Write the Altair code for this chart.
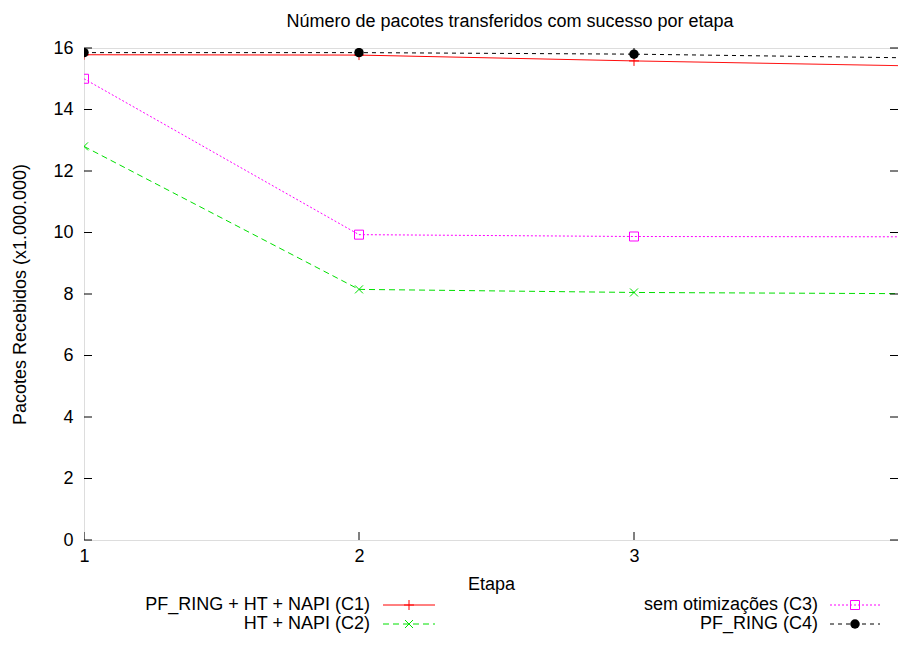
import altair as alt
import pandas as pd

etapas = [1, 2, 3, 4]
series_names = ["PF_RING + HT + NAPI (C1)", "HT + NAPI (C2)", "sem otimizações (C3)", "PF_RING (C4)"]
c1 = [15.78, 15.77, 15.58, 15.42]
c2 = [12.80, 8.15, 8.05, 8.01]
c3 = [15.00, 9.93, 9.87, 9.86]
c4 = [15.85, 15.85, 15.80, 15.68]
series_values = [c1, c2, c3, c4]
y_ticks = [0, 2, 4, 6, 8, 10, 12, 14, 16]
x_labels = [1, 2, 3]
x_ticks = [1, 2, 3, 4]

PLUS = "M-1,0L1,0M0,-1L0,1"
XSHAPE = "M-1,-1L1,1M-1,1L1,-1"
styles = [
    dict(color="#ff0000", dash=[1, 0], shape=PLUS, filled=False, size=100),
    dict(color="#00e000", dash=[6, 4], shape=XSHAPE, filled=False, size=64),
    dict(color="#ff00ff", dash=[2, 2], shape="square", filled=False, size=81),
    dict(color="#000000", dash=[4, 4], shape="circle", filled=True, size=90),
]
W, H = 814, 492
X_MAX = 1 + W / 275
FS = 18
# legend layout (pixels relative to plot area)
leg_text_x = [286, 286, 734, 734]
leg_line_x = [(299, 351), (299, 351), (746, 796), (746, 796)]
leg_y = [557, 576, 557, 576]

X = alt.X("etapa:Q", scale=alt.Scale(domain=[1, X_MAX], nice=False, zero=False),
          axis=alt.Axis(values=x_labels, title="Etapa", ticks=False, domain=False, grid=False,
                        labelFontSize=FS, labelPadding=7, labelFlush=False,
                        titleFontSize=FS, titleFontWeight="normal", titlePadding=10,
                        labelColor="black", titleColor="black"))
Y = alt.Y("valor:Q", scale=alt.Scale(domain=[0, 16], nice=False, zero=False),
          axis=alt.Axis(values=y_ticks, title="Pacotes Recebidos (x1.000.000)", ticks=False,
                        domain=False, grid=False, labelFontSize=FS, labelPadding=11,
                        titleFontSize=FS, titleFontWeight="normal", titlePadding=23,
                        labelColor="black", titleColor="black"))

layers = []
for name, vals, st in zip(series_names, series_values, styles):
    df = pd.DataFrame({"etapa": etapas, "valor": vals})
    layers.append(alt.Chart(df).mark_line(color=st["color"], strokeDash=st["dash"], strokeWidth=1,
                                          clip=True).encode(x=X, y=Y))
    layers.append(alt.Chart(df).mark_point(shape=st["shape"], filled=st["filled"], size=st["size"],
                                           color=st["color"], strokeWidth=1, opacity=1,
                                           clip=True).encode(x=X, y=Y))

# inward ticks
ydf = pd.DataFrame({"valor": y_ticks})
xdf = pd.DataFrame({"etapa": x_ticks})
layers.append(alt.Chart(ydf).mark_rule(color="black", strokeWidth=1).encode(
    y=Y, x=alt.value(0), x2=alt.value(8)))
layers.append(alt.Chart(ydf).mark_rule(color="black", strokeWidth=1).encode(
    y=Y, x=alt.value(W - 8), x2=alt.value(W)))
layers.append(alt.Chart(xdf).mark_rule(color="black", strokeWidth=1, clip=True).encode(
    x=X, y=alt.value(H), y2=alt.value(H - 8)))
layers.append(alt.Chart(xdf).mark_rule(color="black", strokeWidth=1, clip=True).encode(
    x=X, y=alt.value(0), y2=alt.value(8)))

# legend
for i, (name, st) in enumerate(zip(series_names, styles)):
    ldf = pd.DataFrame({"label": [name]})
    layers.append(alt.Chart(ldf).mark_text(align="right", baseline="middle", fontSize=FS,
                                           color="black").encode(
        text="label:N", x=alt.value(leg_text_x[i]), y=alt.value(leg_y[i])))
    x0, x1 = leg_line_x[i]
    layers.append(alt.Chart(ldf).mark_rule(color=st["color"], strokeDash=st["dash"],
                                           strokeWidth=1).encode(
        x=alt.value(x0), x2=alt.value(x1), y=alt.value(leg_y[i])))
    layers.append(alt.Chart(ldf).mark_point(shape=st["shape"], filled=st["filled"], size=st["size"],
                                            color=st["color"], strokeWidth=1, opacity=1).encode(
        x=alt.value((x0 + x1) / 2), y=alt.value(leg_y[i])))

chart = alt.layer(*layers).properties(
    width=W, height=H,
    title=alt.TitleParams("Número de pacotes transferidos com sucesso por etapa",
                          fontSize=FS, fontWeight="normal", anchor="middle", offset=8, dx=19,
                          color="black"),
    autosize="none",
    padding={"left": 76, "top": 40, "right": 0, "bottom": 94},
    background="white",
).configure_view(stroke="black", strokeWidth=1.8).configure(
    font="Liberation Sans"
)

chart.save("out.html", embed_options={"renderer": "svg", "actions": False})
